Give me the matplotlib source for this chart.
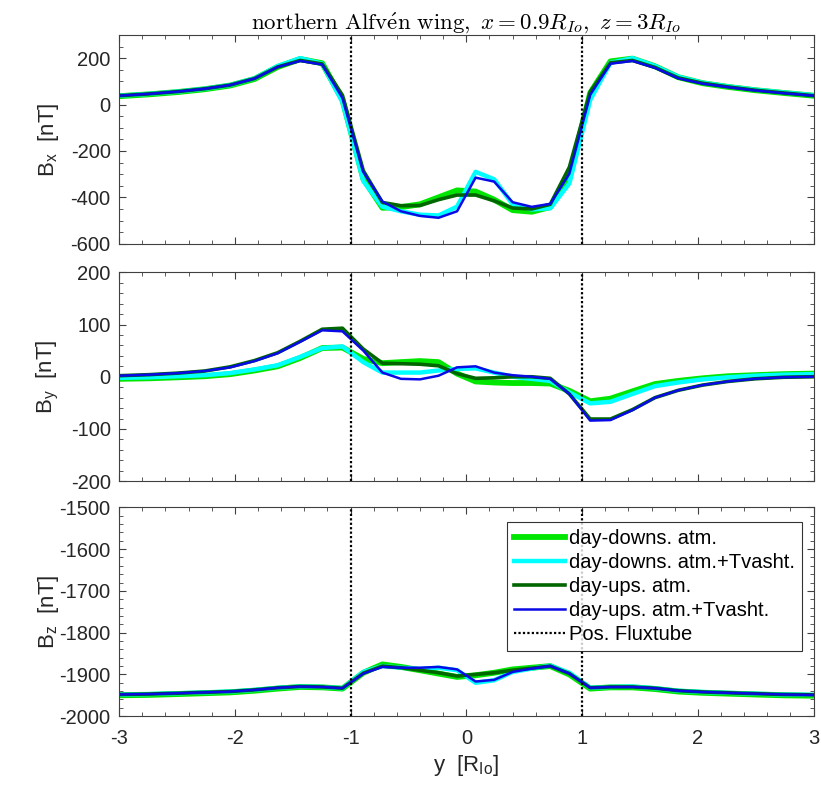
import matplotlib
matplotlib.use("Agg")
import matplotlib.pyplot as plt
from matplotlib.ticker import MultipleLocator

plt.rcParams["font.family"] = ["Liberation Sans", "DejaVu Sans"]
plt.rcParams["axes.unicode_minus"] = False
plt.rcParams["mathtext.fontset"] = "custom"
plt.rcParams["mathtext.rm"] = "Liberation Sans"

# y positions along the cut [R_Io]
y_pos = [-3.0, -2.74, -2.49, -2.26, -2.04, -1.83, -1.63, -1.435, -1.245, -1.07,
         -0.89, -0.725, -0.565, -0.40, -0.24, -0.08, 0.08, 0.24, 0.40, 0.565,
         0.725, 0.89, 1.07, 1.245, 1.435, 1.63, 1.83, 2.04, 2.26, 2.49, 2.74, 3.0]

# B_x [nT]
bx_down = [36, 44, 54, 66, 82, 110, 162, 196, 178, 20,
           -320, -445, -442, -430, -400, -370, -375, -410, -455, -462,
           -442, -320, 50, 186, 198, 165, 118, 92, 76, 62, 50, 38]
bx_down_tv = [38, 46, 56, 68, 84, 113, 166, 200, 176, 10,
              -330, -440, -460, -475, -478, -440, -290, -322, -430, -452,
              -447, -340, 20, 180, 200, 166, 120, 94, 78, 64, 52, 40]
bx_up = [38, 46, 56, 68, 84, 112, 162, 190, 175, 40,
         -285, -422, -436, -435, -410, -390, -390, -415, -446, -450,
         -430, -270, 55, 180, 190, 160, 115, 92, 76, 62, 50, 38]
bx_up_tv = [38, 46, 56, 68, 84, 112, 162, 188, 172, 28,
            -290, -418, -460, -480, -488, -460, -315, -332, -421, -441,
            -428, -298, 42, 176, 188, 158, 113, 90, 75, 61, 49, 38]

# B_y [nT]
by_down = [-4, -3, -1, 1, 5, 12, 20, 36, 55, 56,
           34, 26, 28, 30, 28, 6, -9, -11, -12, -12,
           -13, -27, -47, -42, -28, -14, -8, -3, 1, 3, 5, 6]
by_down_tv = [-2, -1, 1, 3, 7, 14, 22, 38, 55, 58,
              28, 8, 8, 8, 12, 15, 16, 8, 0, -4,
              -8, -30, -51, -48, -33, -18, -11, -5, -1, 2, 4, 5]
by_up = [2, 4, 7, 11, 19, 31, 46, 68, 91, 93,
         53, 26, 25, 24, 21, 6, -3, -2, 0, 0,
         -3, -33, -81, -81, -63, -40, -26, -16, -9, -4, -1, 0]
by_up_tv = [2, 4, 7, 11, 18, 30, 45, 67, 89, 87,
            50, 8, -4, -5, 2, 18, 20, 8, 3, 0,
            -4, -33, -84, -83, -64, -40, -26, -16, -9, -4, -1, 0]

# B_z [nT]
bz_down = [-1950, -1949, -1947, -1945, -1943, -1939, -1934, -1930, -1931, -1934,
           -1896, -1876, -1882, -1890, -1898, -1906, -1902, -1896, -1888, -1884,
           -1880, -1900, -1934, -1931, -1931, -1935, -1941, -1944, -1946, -1948, -1950, -1951]
bz_down_tv = [-1948, -1947, -1945, -1943, -1941, -1937, -1932, -1929, -1930, -1933,
              -1894, -1880, -1884, -1887, -1884, -1890, -1920, -1914, -1894, -1886,
              -1879, -1896, -1932, -1930, -1929, -1933, -1939, -1942, -1944, -1946, -1948, -1949]
bz_up = [-1948, -1947, -1945, -1943, -1941, -1937, -1932, -1929, -1930, -1933,
         -1897, -1880, -1884, -1890, -1896, -1904, -1900, -1896, -1890, -1885,
         -1880, -1898, -1932, -1930, -1930, -1933, -1939, -1942, -1944, -1946, -1948, -1949]
bz_up_tv = [-1948, -1947, -1945, -1943, -1941, -1937, -1932, -1929, -1930, -1933,
            -1898, -1882, -1884, -1884, -1882, -1888, -1917, -1913, -1894, -1886,
            -1880, -1898, -1932, -1930, -1930, -1933, -1939, -1942, -1944, -1946, -1948, -1949]

fluxtube = [-1.0, 1.0]

labels = ["day-downs. atm.", "day-downs. atm.+Tvasht.",
          "day-ups. atm.", "day-ups. atm.+Tvasht."]
colors = ["#00e600", "#00ffff", "#006600", "#0a0ae6"]
widths = [4.2, 3.2, 2.6, 1.8]

panels = [
    ([bx_down, bx_down_tv, bx_up, bx_up_tv], r"B$_{\mathregular{x}}$  [nT]", (-600, 300), 200, 50),
    ([by_down, by_down_tv, by_up, by_up_tv], r"B$_{\mathregular{y}}$  [nT]", (-200, 200), 100, 20),
    ([bz_down, bz_down_tv, bz_up, bz_up_tv], r"B$_{\mathregular{z}}$  [nT]", (-2000, -1500), 100, 20),
]

fig = plt.figure(figsize=(8.21, 7.94), dpi=100)
bottoms = [0.693, 0.394, 0.098]
axes = []
for (series, ylab, ylim, major, minor), b in zip(panels, bottoms):
    ax = fig.add_axes([0.145, b, 0.846, 0.263])
    for data, lab, c, lw in zip(series, labels, colors, widths):
        ax.plot(y_pos, data, color=c, lw=lw, label=lab)
    for xf in fluxtube:
        ax.axvline(xf, color="black", ls=(0, (1, 1)), lw=1.6,
                   label="Pos. Fluxtube" if xf == fluxtube[0] else None)
    ax.set_xlim(-3, 3)
    ax.set_ylim(*ylim)
    ax.xaxis.set_major_locator(MultipleLocator(1))
    ax.xaxis.set_minor_locator(MultipleLocator(0.2))
    ax.yaxis.set_major_locator(MultipleLocator(major))
    ax.yaxis.set_minor_locator(MultipleLocator(minor))
    ax.tick_params(which="both", direction="in", top=True, right=True,
                   color="#404040", labelsize=14.5, labelcolor="#262626")
    ax.tick_params(which="major", length=5, width=0.8)
    ax.tick_params(which="minor", length=3, width=0.6)
    ax.tick_params(axis="y", pad=6)
    ax.tick_params(axis="x", pad=9)
    for s in ax.spines.values():
        s.set_color("#404040")
        s.set_linewidth(0.8)
    ax.set_ylabel(ylab, fontsize=16, color="#262626")
    ax.yaxis.set_label_coords(-0.083, 0.5)
    axes.append(ax)

axes[0].tick_params(labelbottom=False)
axes[1].tick_params(labelbottom=False)
axes[2].set_xlabel(r"y  [R$_{\mathregular{Io}}$]", fontsize=16, color="#262626", labelpad=4)

axes[0].set_title(r"$\mathrm{northern\ Alfv\acute{e}n\ wing,}\ x=0.9R_{Io},\ z=3R_{Io}$",
                  fontsize=16.5, math_fontfamily="cm", pad=4)

leg = axes[2].legend(loc="upper right", bbox_to_anchor=(0.983, 0.93), fontsize=14.5,
                     frameon=True, fancybox=False, edgecolor="black", handlelength=2.5,
                     handletextpad=0.2, borderpad=0.35, labelspacing=0.25,
                     borderaxespad=0.0)
leg.get_frame().set_linewidth(0.8)

fig.savefig("out.png", dpi=100)
